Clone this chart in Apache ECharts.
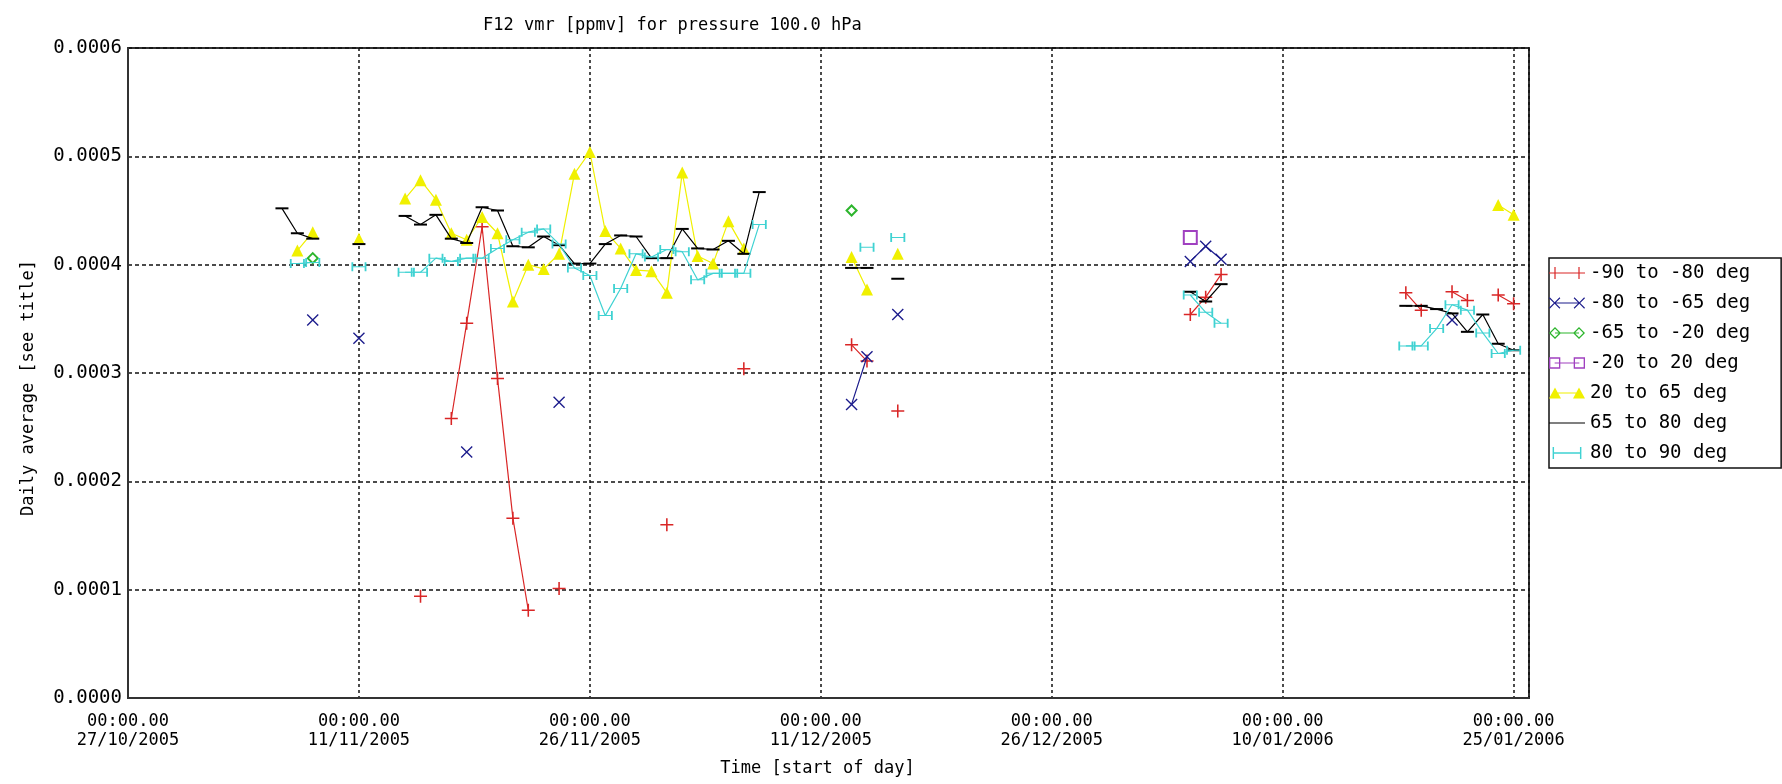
<!DOCTYPE html>
<html>
<head>
<meta charset="utf-8">
<script src="https://cdn.jsdelivr.net/npm/echarts@6/dist/echarts.min.js"></script>
<style>
html,body{margin:0;padding:0;background:#fff;}
#chart{width:1782px;height:784px;}
</style>
</head>
<body>
<div id="chart"></div>
<script>
// x values are days since 27/10/2005 00:00
const xTickLabels = ['27/10/2005','11/11/2005','26/11/2005','11/12/2005','26/12/2005','10/01/2006','25/01/2006'];
const seriesNames = ['-90 to -80 deg','-80 to -65 deg','-65 to -20 deg','-20 to 20 deg','20 to 65 deg','65 to 80 deg','80 to 90 deg'];

const s1_days = [19,21,22,23,24,25,26,28,35,40,47,48,50,69,70,71,83,84,86,87,89,90];
const s1_vals = [0.000094,0.000258,0.000346,0.000435,0.000295,0.000166,0.000081,0.000101,0.000160,0.000304,0.000326,0.000311,0.000265,0.000354,0.000370,0.000391,0.000374,0.000358,0.000375,0.000367,0.000372,0.000364];

const s2_days = [12,15,22,28,47,48,50,69,70,71,86];
const s2_vals = [0.000349,0.000332,0.000227,0.000273,0.000271,0.000315,0.000354,0.000403,0.000417,0.000405,0.000349];

const s3_days = [12,47];
const s3_vals = [0.000406,0.000450];

const s4_days = [69];
const s4_vals = [0.000425];

const s5_days = [11,12,15,18,19,20,21,22,23,24,25,26,27,28,29,30,31,32,33,34,35,36,37,38,39,40,47,48,50,89,90];
const s5_vals = [0.000413,0.000430,0.000424,0.000461,0.000478,0.000460,0.000429,0.000423,0.000444,0.000429,0.000366,0.000400,0.000396,0.000410,0.000484,0.000504,0.000431,0.000415,0.000395,0.000394,0.000374,0.000485,0.000408,0.000401,0.000440,0.000415,0.000407,0.000377,0.000410,0.000455,0.000446];

const s6_days = [10,11,12,15,18,19,20,21,22,23,24,25,26,27,28,29,30,31,32,33,34,35,36,37,38,39,40,41,47,48,50,69,70,71,83,84,85,86,87,88,89,90];
const s6_vals = [0.000452,0.000429,0.000424,0.000419,0.000445,0.000437,0.000446,0.000424,0.000420,0.000453,0.000450,0.000417,0.000416,0.000426,0.000418,0.000401,0.000401,0.000419,0.000427,0.000426,0.000406,0.000406,0.000433,0.000415,0.000414,0.000422,0.000410,0.000467,0.000397,0.000397,0.000387,0.000375,0.000366,0.000382,0.000362,0.000362,0.000359,0.000355,0.000338,0.000354,0.000327,0.000321];

const s7_days = [11,12,15,18,19,20,21,22,23,24,25,26,27,28,29,30,31,32,33,34,35,36,37,38,39,40,41,48,50,69,70,71,83,84,85,86,87,88,89,90];
const s7_vals = [0.000401,0.000402,0.000398,0.000393,0.000393,0.000406,0.000403,0.000406,0.000406,0.000415,0.000423,0.000430,0.000433,0.000419,0.000397,0.000390,0.000353,0.000378,0.000410,0.000407,0.000414,0.000412,0.000386,0.000392,0.000392,0.000392,0.000437,0.000416,0.000425,0.000372,0.000356,0.000346,0.000325,0.000325,0.000341,0.000363,0.000358,0.000337,0.000318,0.000321];

const seriesColors = ['#d92626','#1c1c8c','#2db52d','#a040c0','#f0f000','#000000','#3fd2d2'];

// Missing days break the line (as in the original plot)
function build(days, vals) {
  const out = [];
  for (let i = 0; i < days.length; i++) {
    if (i > 0 && days[i] - days[i-1] > 1) out.push([days[i-1] + 0.5, null]);
    out.push([days[i], vals[i]]);
  }
  return out;
}

const PLUS = 'path://M4.4,0H5.6V4.4H10V5.6H5.6V10H4.4V5.6H0V4.4H4.4Z';
const CROSS = 'path://M0,0.8L0.8,0L5,4.2L9.2,0L10,0.8L5.8,5L10,9.2L9.2,10L5,5.8L0.8,10L0,9.2L4.2,5Z';
const BAR = 'path://M0,0H10V10H0Z';
const HBAR = 'path://M0,0H1.2V4.4H8.8V0H10V10H8.8V5.6H1.2V10H0Z';

const symbols = [
  {symbol: PLUS, size: 13},
  {symbol: CROSS, size: 12},
  {symbol: 'emptyDiamond', size: 10},
  {symbol: 'emptyRect', size: 13},
  {symbol: 'triangle', size: 12},
  {symbol: BAR, size: [13, 2]},
  {symbol: HBAR, size: [15, 9]}
];

// legend icons in the IDL style: marker - line - marker (36 x 12 box)
function f(n) { return (Math.round(n * 100) / 100).toString(); }
function plusAt(cx) {
  return 'M' + f(cx-0.6) + ',0H' + f(cx+0.6) + 'V5.4H' + f(cx+6) + 'V6.6H' + f(cx+0.6) + 'V12H' + f(cx-0.6) + 'V6.6H' + f(cx-6) + 'V5.4H' + f(cx-0.6) + 'Z';
}
function crossAt(cx) {
  const p = [[-5.5,-4.7],[-4.7,-5.5],[0,-0.8],[4.7,-5.5],[5.5,-4.7],[0.8,0],[5.5,4.7],[4.7,5.5],[0,0.8],[-4.7,5.5],[-5.5,4.7],[-0.8,0]];
  return 'M' + p.map(q => f(cx + q[0]) + ',' + f(6 + q[1])).join('L') + 'Z';
}
function diamondAt(cx) {
  return 'M' + f(cx) + ',0L' + f(cx+6) + ',6L' + f(cx) + ',12L' + f(cx-6) + ',6Z' +
         'M' + f(cx) + ',1.8L' + f(cx-4.2) + ',6L' + f(cx) + ',10.2L' + f(cx+4.2) + ',6Z';
}
function squareAt(cx) {
  return 'M' + f(cx-5.5) + ',0.5H' + f(cx+5.5) + 'V11.5H' + f(cx-5.5) + 'Z' +
         'M' + f(cx-4.2) + ',1.8V10.2H' + f(cx+4.2) + 'V1.8Z';
}
function triAt(cx) {
  return 'M' + f(cx) + ',0.5L' + f(cx+6) + ',11.5L' + f(cx-6) + ',11.5Z';
}
const LINE = 'M6,5.4H30V6.6H6Z';
const legendIcons = [
  'path://' + plusAt(6) + LINE + plusAt(30),
  'path://' + crossAt(6) + LINE + crossAt(30),
  'path://' + diamondAt(6) + LINE + diamondAt(30),
  'path://' + squareAt(6) + LINE + squareAt(30),
  'path://' + triAt(6) + LINE + triAt(30),
  'path://M0,0H36V1.2H0Z',
  'path://M6,1H7.2V5.4H28.8V1H30V11H28.8V6.6H7.2V11H6Z'
];

const allDays = [s1_days,s2_days,s3_days,s4_days,s5_days,s6_days,s7_days];
const allVals = [s1_vals,s2_vals,s3_vals,s4_vals,s5_vals,s6_vals,s7_vals];

const FONT = 'DejaVu Sans Mono';

const series = seriesNames.map((name, i) => ({
  name: name,
  type: 'line',
  data: build(allDays[i], allVals[i]),
  connectNulls: false,
  showSymbol: true,
  showAllSymbol: true,
  symbol: symbols[i].symbol,
  symbolSize: symbols[i].size,
  symbolKeepAspect: false,
  lineStyle: {color: seriesColors[i], width: 1.2},
  itemStyle: {color: seriesColors[i], borderColor: seriesColors[i], borderWidth: (i === 2 || i === 3) ? 1.3 : 0},
  emphasis: {disabled: true},
  z: 2 + i
}));

const chart = echarts.init(document.getElementById('chart'), null, {renderer: 'canvas'});
chart.setOption({
  animation: false,
  backgroundColor: '#ffffff',
  title: {
    text: 'F12 vmr [ppmv] for pressure 100.0 hPa',
    left: 478, top: 12,
    textStyle: {fontFamily: FONT, fontSize: 17, fontWeight: 'normal', color: '#000'}
  },
  legend: {
    orient: 'vertical',
    left: 1549, top: 258,
    padding: [5, 31, 5, 0],
    itemWidth: 36, itemHeight: 12, itemGap: 10,
    symbolKeepAspect: true,
    borderColor: '#111', borderWidth: 1.5,
    backgroundColor: '#fff',
    textStyle: {fontFamily: FONT, fontSize: 19, color: '#000', lineHeight: 20},
    data: seriesNames.map((n, i) => ({
      name: n, icon: legendIcons[i],
      itemStyle: {color: seriesColors[i], borderWidth: 0}
    })),
    selectedMode: false
  },
  grid: {
    left: 128, top: 48, right: 253, bottom: 86,
    show: true, borderColor: '#333', borderWidth: 2, backgroundColor: '#fff'
  },
  xAxis: {
    type: 'value', min: 0, max: 91, interval: 15,
    name: 'Time [start of day]', nameLocation: 'middle', nameGap: 62,
    nameTextStyle: {fontFamily: FONT, fontSize: 17, color: '#000', padding: [0, 22, 0, 0]},
    axisLine: {show: true, lineStyle: {color: '#333', width: 2}},
    axisTick: {show: false},
    splitLine: {show: true, lineStyle: {color: '#111', width: 1.5, type: [3, 3]}},
    axisLabel: {
      margin: 14, fontFamily: FONT, fontSize: 17, color: '#000', lineHeight: 19,
      showMaxLabel: false,
      formatter: function (v) {
        if (Math.abs(v % 15) > 1e-6) return '';
        return '00:00.00\n' + xTickLabels[Math.round(v / 15)];
      }
    }
  },
  yAxis: {
    type: 'value', min: 0, max: 0.0006, interval: 0.0001,
    name: 'Daily average [see title]', nameLocation: 'middle', nameGap: 91,
    nameTextStyle: {fontFamily: FONT, fontSize: 17, color: '#000', padding: [0, 30, 0, 0]},
    axisLine: {show: true, lineStyle: {color: '#333', width: 2}},
    axisTick: {show: false},
    splitLine: {show: true, lineStyle: {color: '#111', width: 1.5, type: [4, 3]}},
    axisLabel: {
      margin: 6, fontFamily: FONT, fontSize: 19, color: '#000',
      formatter: function (v) { return v.toFixed(4); }
    }
  },
  series: series
});
</script>
</body>
</html>
